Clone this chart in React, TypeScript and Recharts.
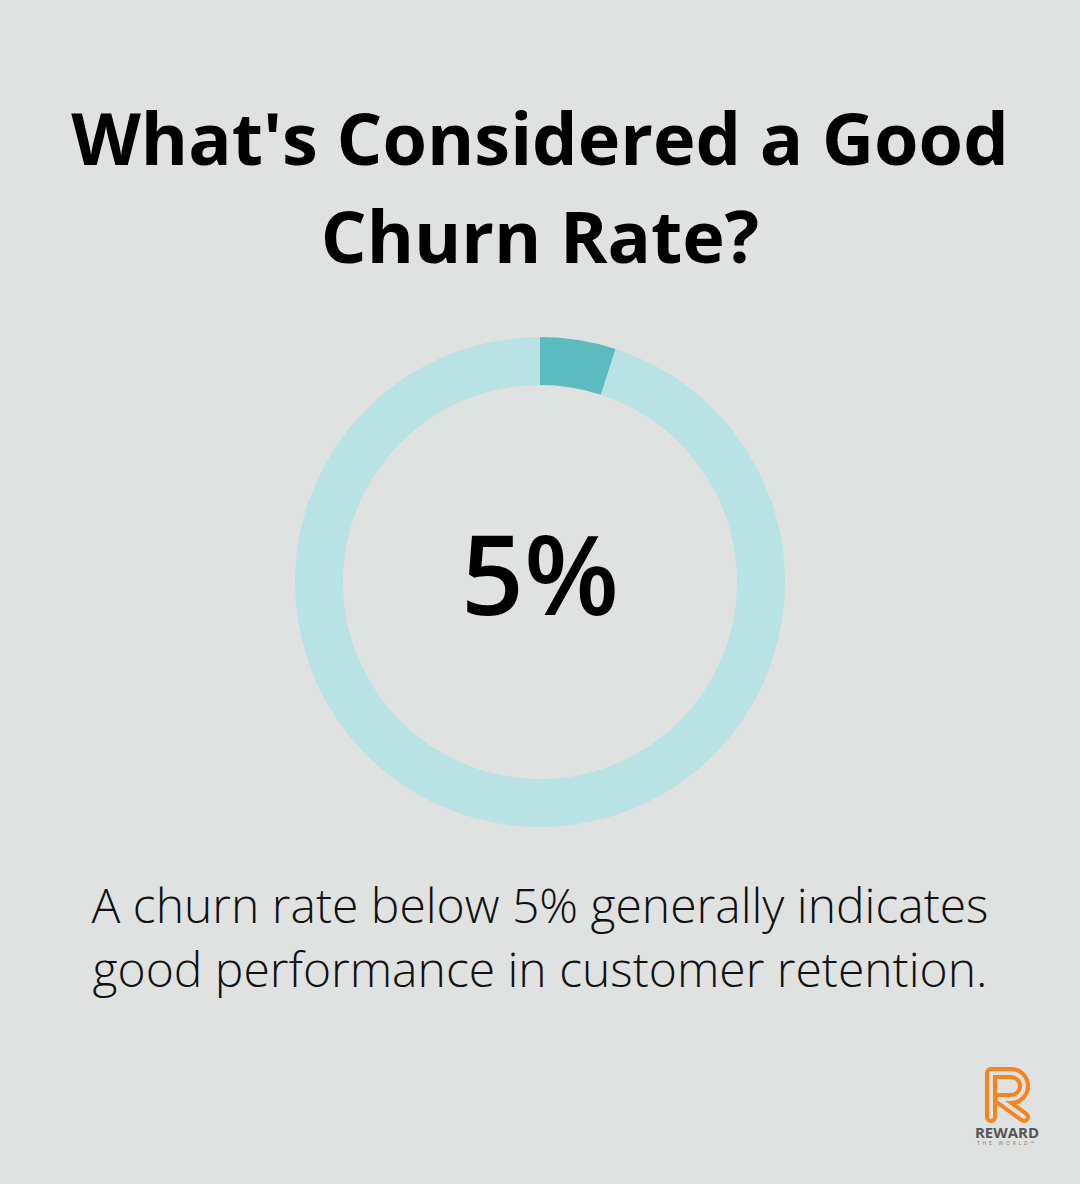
import { Cell, Label, Pie, PieChart } from "recharts";

const slices = [
  { name: "Churn", value: 5 },
  { name: "Retained", value: 95 },
];
const sliceColors = ["#5BBCBF", "#B9E2E4"];
const centerLabel = "5%";
const title = ["What's Considered a Good", "Churn Rate?"];
const caption = ["A churn rate below 5% generally indicates", "good performance in customer retention."];

const bg = "#E0E2E1";
const font = "'Open Sans', sans-serif";

function Logo() {
  const r = "M991 1117 L991 1073 L1011 1073 A13 13 0 0 1 1011 1099 L999 1099 L1024 1117";
  return (
    <svg width={1080} height={1184} style={{ position: "absolute", left: 0, top: 0 }}>
      <path d={r} fill="none" stroke="#F7841F" strokeWidth={12} strokeLinejoin="round" strokeLinecap="round" />
      <path d={r} fill="none" stroke={bg} strokeWidth={4} strokeLinejoin="round" strokeLinecap="round" />
      <text x={1007} y={1138} textAnchor="middle" fontFamily={font} fontWeight={700} fontSize={15} fill="#555555">
        REWARD
      </text>
      <text x={1007} y={1145} textAnchor="middle" fontFamily={font} fontSize={5} letterSpacing={2.8} fill="#777777">
        THE WORLD™
      </text>
    </svg>
  );
}

export default function App() {
  return (
    <div style={{ position: "absolute", left: 0, top: 0, width: 1080, height: 1184, background: bg, overflow: "hidden" }}>
      <div
        style={{
          position: "absolute",
          left: 0,
          top: 88,
          width: 1080,
          textAlign: "center",
          fontFamily: font,
          fontWeight: 700,
          fontSize: 72,
          lineHeight: "98px",
          color: "#000",
        }}
      >
        {title.map((t) => (
          <div key={t}>{t}</div>
        ))}
      </div>
      <div style={{ position: "absolute", left: 0, top: 0 }}>
        <PieChart width={1080} height={1184} margin={{ top: 0, right: 0, bottom: 0, left: 0 }}>
          <Pie
            data={slices}
            dataKey="value"
            cx={540}
            cy={582}
            innerRadius={197}
            outerRadius={245}
            startAngle={90}
            endAngle={-270}
            stroke="none"
            isAnimationActive={false}
          >
            {slices.map((s, i) => (
              <Cell key={s.name} fill={sliceColors[i]} />
            ))}
            <Label
              value={centerLabel}
              position="center"
              fill="#000"
              dy={-16}
              style={{ fontFamily: font, fontSize: 110, fontWeight: 600 }}
            />
          </Pie>
        </PieChart>
      </div>
      <div
        style={{
          position: "absolute",
          left: 0,
          top: 873,
          width: 1080,
          textAlign: "center",
          fontFamily: font,
          fontWeight: 300,
          fontSize: 48,
          lineHeight: "64px",
          color: "#111",
        }}
      >
        {caption.map((t) => (
          <div key={t}>{t}</div>
        ))}
      </div>
      <Logo />
    </div>
  );
}
